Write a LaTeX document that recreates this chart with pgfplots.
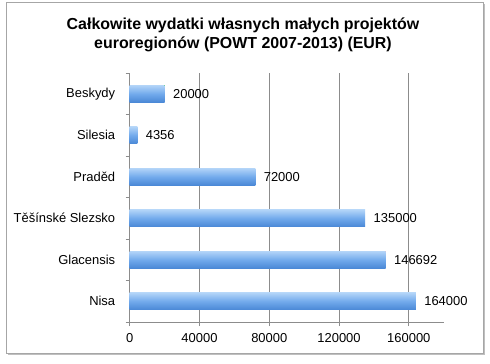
\documentclass[border=0pt]{standalone}
\usepackage{fontspec}
\setmainfont{Liberation Sans}
\usepackage{pgfplots}
\pgfplotsset{compat=1.18}
\usetikzlibrary{shadows}
\definecolor{bartop}{HTML}{B2D4F8}
\definecolor{barmid}{HTML}{72AAEC}
\definecolor{barbot}{HTML}{4A88D6}
\definecolor{gridc}{HTML}{8C8C8C}
\begin{document}
\begin{tikzpicture}[x=1bp,y=1bp]
\path[use as bounding box] (-129.7,-41) rectangle (360.3,322);
\fill[white, drop shadow={shadow xshift=2bp, shadow yshift=-2bp, opacity=0.5}] (-123.7,-31) rectangle (353.3,320);
\draw[gray!70, line width=0.8bp] (-123.7,-31) rectangle (353.3,320);
\node[font=\fontsize{16}{18.5}\selectfont\bfseries, align=center] at (113.3,287) {Całkowite wydatki własnych małych projektów\\euroregionów (POWT 2007-2013) (EUR)};
\begin{axis}[
  at={(0,0)}, anchor=south west,
  scale only axis, width=314bp, height=249bp,
  xbar, bar width=17bp, bar shift=0pt,
  xmin=0, xmax=180000,
  ymin=-0.5, ymax=5.5,
  ytick={0,1,2,3,4,5},
  yticklabels={Nisa,Glacensis,Těšínské Slezsko,Praděd,Silesia,Beskydy},
  minor ytick={-0.5,0.5,1.5,2.5,3.5,4.5,5.5},
  major tick length=0pt,
  minor tick length=4bp,
  xtick={0,40000,80000,120000,160000},
  scaled x ticks=false,
  /pgf/number format/fixed,
  /pgf/number format/1000 sep={},
  /pgf/number format/assume math mode=true,
  xmajorgrids, grid style={gridc, line width=0.7bp},
  axis x line*=bottom, axis y line*=left,
  axis line style={gridc, line width=0.8bp},
  x axis line style={-},
  y axis line style={-},
  tick style={gridc, line width=0.7bp},
  extra x ticks={0,40000,80000,120000,160000},
  extra x tick labels={},
  extra x tick style={major tick length=4bp, tick align=outside, grid=none},
  ticklabel style={font=\fontsize{13}{15}\selectfont},
  yticklabel style={xshift=-11bp},
  xticklabel style={yshift=-8bp},
  nodes near coords,
  nodes near coords style={font=\fontsize{13}{15}\selectfont, anchor=west, xshift=5bp, text=black},
  tick align=outside,
  clip=false,
  every axis plot/.append style={draw=none, top color=bartop, bottom color=barbot, middle color=barmid},
]
\addplot coordinates {(164000,0)};
\addplot coordinates {(146692,1)};
\addplot coordinates {(135000,2)};
\addplot coordinates {(72000,3)};
\addplot coordinates {(4356,4)};
\addplot coordinates {(20000,5)};
\end{axis}
\end{tikzpicture}
\end{document}
